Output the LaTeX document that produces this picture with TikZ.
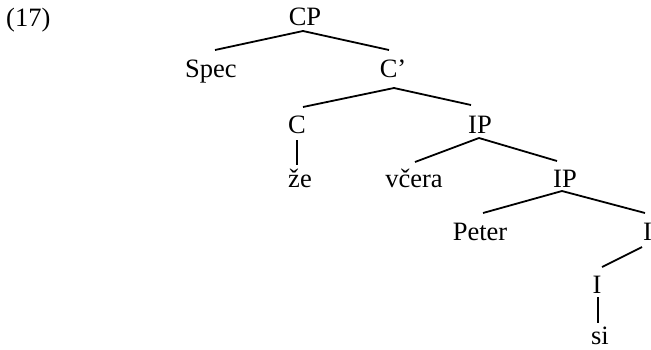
\documentclass[tikz,border=0pt]{standalone}
\usepackage{fontspec}
\setmainfont{Liberation Serif}
\begin{document}
\begin{tikzpicture}[x=1pt,y=-1pt,
  lab/.style={inner sep=0pt,anchor=base,font=\fontsize{26.5}{30}\selectfont},
  br/.style={line width=1.8pt}]
\useasboundingbox (0,0) rectangle (651,349);
\node[lab,anchor=base west] (ex) at (6,26) {(17)};
\node[lab] (cp) at (305,25) {CP};
\node[lab] (spec) at (211,77) {Spec};
\node[lab] (cbar) at (393,77) {C’};
\node[lab] (c) at (297,133) {C};
\node[lab] (ip1) at (480,133) {IP};
\node[lab] (ze) at (300,187) {že};
\node[lab] (vcera) at (414,187) {včera};
\node[lab] (ip2) at (565,187) {IP};
\node[lab] (peter) at (480,240) {Peter};
\node[lab,anchor=base west] (ibar) at (643,240) {I};
\node[lab] (i) at (597,293) {I};
\node[lab] (si) at (600,344) {si};
\draw[br] ([shift={(-2,6)}]cp.base) -- ([shift={(4,-27)}]spec.base);
\draw[br] ([shift={(-2,6)}]cp.base) -- ([shift={(-4,-27)}]cbar.base);
\draw[br] ([shift={(1,11)}]cbar.base) -- ([shift={(6,-26)}]c.base);
\draw[br] ([shift={(1,11)}]cbar.base) -- ([shift={(-9,-28)}]ip1.base);
\draw[br] ([shift={(0,7)}]c.base) -- ([shift={(-3,-22)}]ze.base);
\draw[br] ([shift={(-1,5)}]ip1.base) -- ([shift={(1,-25)}]vcera.base);
\draw[br] ([shift={(-1,5)}]ip1.base) -- ([shift={(-8,-26)}]ip2.base);
\draw[br] ([shift={(-3,4)}]ip2.base) -- ([shift={(3,-27)}]peter.base);
\draw[br] ([shift={(-3,4)}]ip2.base) -- ([shift={(2,-27)}]ibar.base west);
\draw[br] ([shift={(-1,7)}]ibar.base west) -- ([shift={(5,-26)}]i.base);
\draw[br] ([shift={(1,4)}]i.base) -- ([shift={(-2,-21)}]si.base);
\end{tikzpicture}
\end{document}
